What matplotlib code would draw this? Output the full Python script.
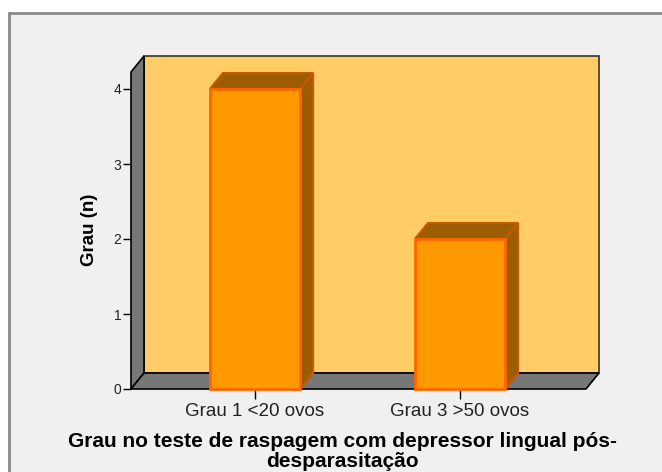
import matplotlib.pyplot as plt
from matplotlib.patches import Polygon, Rectangle

# data
categories = ["Grau 1 <20 ovos", "Grau 3 >50 ovos"]
counts = [4, 2]
y_ticks = [0, 1, 2, 3, 4]

plt.rcParams['font.family'] = ['Liberation Sans', 'DejaVu Sans']

W, H = 662, 472
fig = plt.figure(figsize=(W / 100, H / 100), dpi=100, facecolor='white')

# outer panel with grey border (cut at right/bottom)
fig.patches.append(Rectangle((9 / W, -0.05), 1.0, (H - 13) / H + 0.05,
                             transform=fig.transFigure, facecolor='#f0f0f0',
                             edgecolor='#8a8a8a', linewidth=2, zorder=-10))

# axes = front frame of the 3D box
left_px, right_px, zero_px, top_px = 131, 586, 389, 72
ax = fig.add_axes([left_px / W, (H - zero_px) / H,
                   (right_px - left_px) / W, (zero_px - top_px) / H])
ax.set_facecolor('none')
ax.set_zorder(5)

px_per_x = 205.0
px_per_y = 75.0
xl = (left_px - 255) / px_per_x
xr = (right_px - 255) / px_per_x
ytop = (zero_px - top_px) / px_per_y
ax.set_xlim(xl, xr)
ax.set_ylim(0, ytop)

dx = 13 / px_per_x
dy = 16 / px_per_y

# back wall
ax.add_patch(Polygon([(xl + dx, dy), (xr + dx, dy), (xr + dx, ytop + dy), (xl + dx, ytop + dy)],
                     closed=True, facecolor='#ffcc66', edgecolor='#333333', linewidth=1.2,
                     clip_on=False, zorder=1))
# left wall
ax.add_patch(Polygon([(xl, 0), (xl + dx, dy), (xl + dx, ytop + dy), (xl, ytop)],
                     closed=True, facecolor='#777777', edgecolor='black', linewidth=1.2,
                     clip_on=False, zorder=2))
# floor
ax.add_patch(Polygon([(xl, 0), (xr, 0), (xr + dx, dy), (xl + dx, dy)],
                     closed=True, facecolor='#777777', edgecolor='black', linewidth=1.2,
                     clip_on=False, zorder=2))

# bars
bw = 0.44
for i, v in enumerate(counts):
    x0, x1 = i - bw / 2, i + bw / 2
    side = [(x1, 0), (x1 + dx, dy), (x1 + dx, v + dy), (x1, v)]
    top = [(x0, v), (x0 + dx, v + dy), (x1 + dx, v + dy), (x1, v)]
    ax.add_patch(Polygon(side, closed=True, facecolor='#9c5c00', edgecolor='#c65a00',
                         linewidth=1.5, clip_on=False, zorder=3))
    ax.add_patch(Polygon(top, closed=True, facecolor='#9c5c00', edgecolor='#c65a00',
                         linewidth=1.5, clip_on=False, zorder=3))
    ax.add_patch(Rectangle((x0, 0), bw, v, facecolor='#ff9900', edgecolor='#ff6600',
                           linewidth=2, clip_on=False, zorder=4))

for s in ax.spines.values():
    s.set_visible(False)

ax.set_yticks(y_ticks)
ax.set_yticklabels([str(t) for t in y_ticks], fontsize=10)
ax.set_xticks(range(len(categories)))
ax.set_xticklabels(categories, fontsize=13.5)
ax.tick_params(axis='y', direction='out', length=6, width=1, pad=1, colors='black',
               labelcolor='#222222')
ax.tick_params(axis='x', direction='out', length=7, width=1, pad=3, colors='black',
               labelcolor='#222222')

# y axis title
fig.text(90 / W, (H - 230) / H, "Grau (n)", rotation=90, ha='center', va='center',
         fontsize=13.5, fontweight='bold')

fig.text(342 / W, (H - 432) / H,
         "Grau no teste de raspagem com depressor lingual pós-\ndesparasitação",
         ha='center', va='top', fontsize=15, fontweight='bold', linespacing=1.05)

fig.savefig("out.png", dpi=100, facecolor=fig.get_facecolor())
